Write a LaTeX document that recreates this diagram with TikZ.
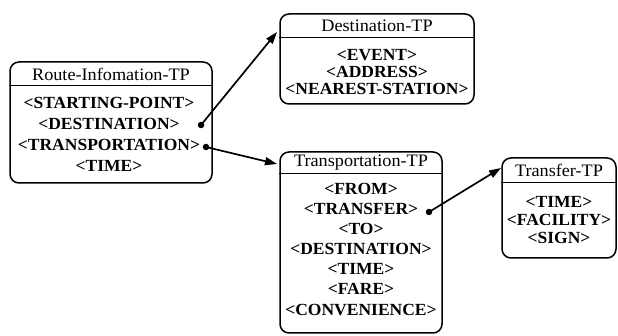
\documentclass[tikz,border=0pt]{standalone}
\usepackage{fontspec}
\setmainfont{Liberation Serif}
\usetikzlibrary{arrows.meta}
\begin{document}
\begin{tikzpicture}[x=1pt,y=-1pt,
  tpbox/.style={draw, line width=1.5pt, rounded corners=9pt, inner sep=0pt},
  divider/.style={line width=1.3pt},
  tptitle/.style={font=\fontsize{17.5}{19}\selectfont\addfontfeature{FakeStretch=1.04}, inner sep=0pt},
  slot/.style={font=\fontsize{17}{19}\selectfont\bfseries\addfontfeature{FakeStretch=1.03}, inner sep=0pt},
  link/.style={line width=1.7pt, -{Triangle[length=12pt,width=8pt]}},
  knob/.style={circle, fill, inner sep=0pt, minimum size=6.5pt}]
\useasboundingbox (0,0) rectangle (618,336);

% Route-Infomation-TP
\node[tpbox, minimum width=202pt, minimum height=121pt] (route) at (111,122.5) {};
\draw[divider] ([yshift=-24pt]route.north west) -- ([yshift=-24pt]route.north east);
\node[tptitle] (routeT) at (111,74) {Route-Infomation-TP};
\node[slot] (r1) at (109,103) {<STARTING-POINT>};
\node[slot] (r2) at (109,124) {<DESTINATION>};
\node[slot] (r3) at (109,145) {<TRANSPORTATION>};
\node[slot] (r4) at (109,166) {<TIME>};

% Destination-TP
\node[tpbox, minimum width=194pt, minimum height=90pt] (dest) at (377,59) {};
\draw[divider] ([yshift=-24pt]dest.north west) -- ([yshift=-24pt]dest.north east);
\node[tptitle] (destT) at (377,26) {Destination-TP};
\node[slot] (d1) at (377,55) {<EVENT>};
\node[slot] (d2) at (377,72) {<ADDRESS>};
\node[slot] (d3) at (377,89) {<NEAREST-STATION>};

% Transportation-TP
\node[tpbox, minimum width=162pt, minimum height=181pt] (trans) at (361,242.5) {};
\draw[divider] ([yshift=-22pt]trans.north west) -- ([yshift=-22pt]trans.north east);
\node[tptitle] (transT) at (361,163) {Transportation-TP};
\node[slot] (t1) at (361,189) {<FROM>};
\node[slot] (t2) at (361,209) {<TRANSFER>};
\node[slot] (t3) at (361,229) {<TO>};
\node[slot] (t4) at (361,249) {<DESTINATION>};
\node[slot] (t5) at (361,269) {<TIME>};
\node[slot] (t6) at (361,289) {<FARE>};
\node[slot] (t7) at (361,310) {<CONVENIENCE>};

% Transfer-TP
\node[tpbox, minimum width=114pt, minimum height=100pt] (xfer) at (559,208) {};
\draw[divider] ([yshift=-25pt]xfer.north west) -- ([yshift=-25pt]xfer.north east);
\node[tptitle] (xferT) at (559,170) {Transfer-TP};
\node[slot] (x1) at (559,202) {<TIME>};
\node[slot] (x2) at (559,220) {<FACILITY>};
\node[slot] (x3) at (559,238) {<SIGN>};

% reference dots and links
\node[knob] (k1) at (201,125) {};
\node[knob] (k2) at (206,147) {};
\node[knob] (k3) at (429,212) {};
\coordinate (destIn) at (277,32);
\coordinate (transIn) at (277,164);
\coordinate (xferIn) at (501,168);
\draw[link] (k1.center) -- (destIn);
\draw[link] (k2.center) -- (transIn);
\draw[link] (k3.center) -- (xferIn);
\end{tikzpicture}
\end{document}
